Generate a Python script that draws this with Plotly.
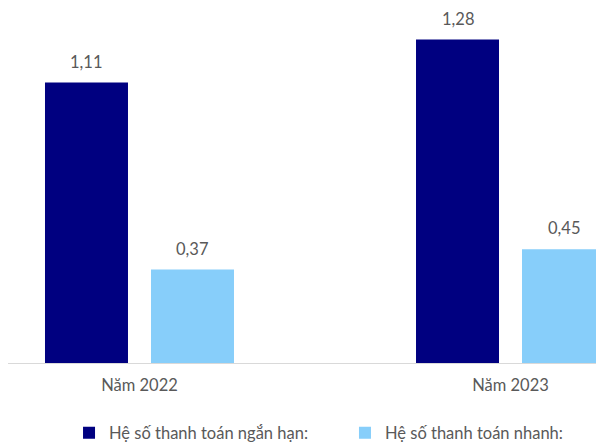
import plotly.graph_objects as go

categories = ["Năm 2022", "Năm 2023"]
series_names = ["Hệ số thanh toán ngắn hạn:", "Hệ số thanh toán nhanh:"]
short_term = [1.11, 1.28]
quick = [0.37, 0.45]
colors = ["#000080", "#87CEFA"]

# page has an 8px body margin, so figure is drawn at (8, 8)
W_PX = 596
H_PX = 440
x_range = [-0.3544, 1.252]
y_range = [0, 1.405]
bar_width = 0.2237
offsets = [-0.2547, 0.031]
legend_x = [0.1024, 0.5654]
FONT = "Lato"
FS = 16.5

fig = go.Figure()
for k, (name, vals, col, off) in enumerate(zip(series_names, [short_term, quick], colors, offsets)):
    fig.add_trace(go.Bar(
        x=categories, y=vals, name=name, marker_color=col,
        width=bar_width, offset=off, marker_line_width=0,
        legend="legend" if k == 0 else f"legend{k+1}",
    ))

def fmt(v):
    return f"{v:.2f}".replace(".", ",")

annotations = []
for vals, off in zip([short_term, quick], offsets):
    for i, v in enumerate(vals):
        annotations.append(dict(
            x=i + off + bar_width / 2, y=v, xref="x", yref="y",
            text=fmt(v), showarrow=False, yanchor="middle", yshift=21,
            font=dict(family=FONT, size=FS, color="#595959"),
        ))

def leg(xpos):
    return dict(
        orientation="h", x=xpos, xanchor="left",
        y=0.034, yref="container", yanchor="middle",
        font=dict(family=FONT, size=FS, color="#595959"),
        bgcolor="rgba(0,0,0,0)",
    )

fig.update_layout(
    width=W_PX, height=H_PX,
    margin=dict(l=0, r=0, t=0, b=85),
    plot_bgcolor="white", paper_bgcolor="white",
    barmode="group",
    showlegend=True,
    legend=leg(legend_x[0]),
    legend2=leg(legend_x[1]),
    annotations=annotations,
    font=dict(family=FONT, size=FS, color="#595959"),
)
fig.update_xaxes(
    range=x_range, showline=True, linecolor="#d9d9d9", linewidth=1,
    showgrid=False, ticks="", ticklabelstandoff=7,
    tickfont=dict(family=FONT, size=FS, color="#595959"),
)
fig.update_yaxes(range=y_range, visible=False, showgrid=False)

fig.write_html("out.html")
